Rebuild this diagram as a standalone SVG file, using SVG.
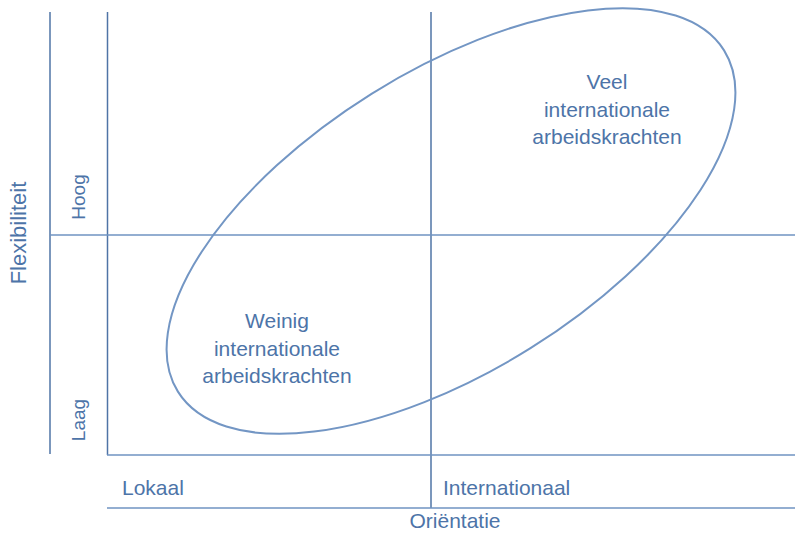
<svg xmlns="http://www.w3.org/2000/svg" width="795" height="533" viewBox="0 0 795 533">
<style>
.ln{stroke:#4f74a6;stroke-width:1.5;fill:none}
.hl{stroke:#6f93c2;stroke-width:1.5;fill:none}
.el{stroke:#7396c4;stroke-width:2;fill:none}
text{font-family:"Liberation Sans",Arial,sans-serif;font-size:21px;fill:#4d74a8}
.c{text-anchor:middle}
.s{font-size:19px}
.f{font-size:22px}
</style>
<rect width="795" height="533" fill="#ffffff"/>
<g id="connectors">
<line class="ln" x1="50" y1="12" x2="50" y2="454"/>
<line class="ln" x1="107.5" y1="12" x2="107.5" y2="455"/>
<line class="ln" x1="431" y1="12" x2="431" y2="508"/>
<line class="hl" x1="50" y1="235" x2="795" y2="235"/>
<line class="hl" x1="107" y1="455" x2="795" y2="455"/>
<line class="hl" x1="107" y1="508" x2="795" y2="508"/>
</g>
<g id="ellipse">
<ellipse class="el" cx="451" cy="221" rx="322" ry="150" transform="rotate(-32 451 221)"/>
</g>
<g id="veel">
<text class="c" x="607" y="89">Veel</text>
<text class="c" x="607" y="116.5">internationale</text>
<text class="c" x="607" y="144">arbeidskrachten</text>
</g>
<g id="weinig">
<text class="c" x="277" y="328">Weinig</text>
<text class="c" x="277" y="355.5">internationale</text>
<text class="c" x="277" y="383">arbeidskrachten</text>
</g>
<g id="axis-x">
<text x="122" y="495">Lokaal</text>
<text x="443" y="495">Internationaal</text>
<text class="c" x="455" y="528">Oriëntatie</text>
</g>
<g id="axis-y">
<text class="c f" transform="translate(26 233) rotate(-90)">Flexibiliteit</text>
<text class="c s" transform="translate(85 197) rotate(-90)">Hoog</text>
<text class="c s" transform="translate(85 420) rotate(-90)">Laag</text>
</g>
</svg>
